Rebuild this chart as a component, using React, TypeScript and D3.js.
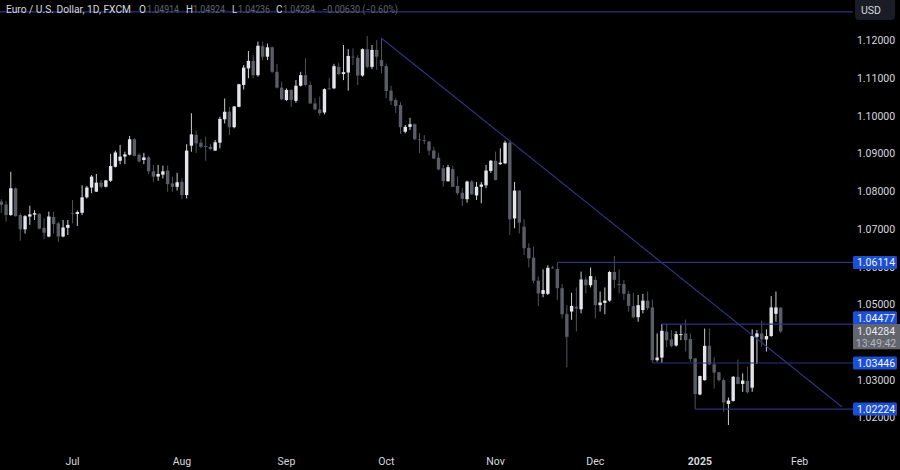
import React from "react";
import * as d3 from "d3";

const opens = [1.0773,1.0765,1.0737,1.0808,1.0737,1.0699,1.0733,1.0738,1.0740,1.0703,1.0680,1.0732,1.0715,1.0680,1.0703,1.0743,1.0740,1.0743,1.0784,1.0810,
1.0799,1.0823,1.0812,1.0828,1.0865,1.0881,1.0892,1.0897,1.0938,1.0897,1.0883,1.0890,1.0853,1.0839,1.0844,1.0855,1.0821,1.0812,1.0825,1.0790,
1.0921,1.0950,1.0929,1.0920,1.0918,1.0908,1.0929,1.0991,1.1011,1.0970,1.1024,1.1082,1.1126,1.1146,1.1108,1.1185,1.1157,1.1182,1.1117,1.1075,
1.1042,1.1069,1.1040,1.1080,1.1108,1.1082,1.1033,1.1017,1.1009,1.1073,1.1073,1.1130,1.1111,1.1115,1.1157,1.1154,1.1107,1.1177,1.1130,1.1175,
1.1148,1.1132,1.1067,1.1042,1.1029,1.0958,1.0971,1.0978,1.0938,1.0936,1.0932,1.0908,1.0889,1.0861,1.0827,1.0859,1.0814,1.0796,1.0779,1.0826,
1.0789,1.0812,1.0816,1.0854,1.0881,1.0872,1.0874,1.0929,1.0728,1.0802,1.0706,1.0650,1.0624,1.0563,1.0528,1.0528,1.0598,1.0594,1.0543,1.0474,
1.0481,1.0494,1.0487,1.0566,1.0551,1.0565,1.0498,1.0504,1.0510,1.0586,1.0554,1.0554,1.0528,1.0496,1.0466,1.0485,1.0510,1.0492,1.0352,1.0359,
1.0428,1.0407,1.0391,1.0420,1.0423,1.0408,1.0357,1.0261,1.0299,1.0390,1.0341,1.0320,1.0299,1.0236,1.0244,1.0308,1.0289,1.0297,1.0279,1.0414,
1.0423,1.0407,1.0416,1.0475,1.04914];
const highs = [1.0779,1.0774,1.0852,1.0810,1.0742,1.0737,1.0762,1.0750,1.0742,1.0728,1.0746,1.0746,1.0719,1.0724,1.0724,1.0777,1.0749,1.0816,1.0814,1.0843,
1.0846,1.0830,1.0830,1.0899,1.0908,1.0923,1.0905,1.0947,1.0941,1.0901,1.0902,1.0894,1.0870,1.0870,1.0868,1.0868,1.0839,1.0849,1.0834,1.0925,
1.1007,1.0961,1.0938,1.0945,1.0925,1.0936,1.0998,1.1046,1.1024,1.1026,1.1085,1.1135,1.1172,1.1161,1.1197,1.1197,1.1192,1.1184,1.1138,1.1091,
1.1073,1.1070,1.1095,1.1117,1.1153,1.1091,1.1047,1.1051,1.1073,1.1100,1.1138,1.1141,1.1188,1.1177,1.1179,1.1161,1.1179,1.1212,1.1188,1.1201,
1.1206,1.1139,1.1080,1.1047,1.1036,1.0976,1.0995,1.0980,1.0954,1.0949,1.0934,1.0918,1.0901,1.0870,1.0870,1.0868,1.0839,1.0808,1.0828,1.0830,
1.0825,1.0825,1.0870,1.0883,1.0905,1.0914,1.0934,1.0936,1.0825,1.0803,1.0726,1.0662,1.0653,1.0574,1.0593,1.0604,1.0602,1.0611,1.0554,1.0498,
1.0531,1.0545,1.0587,1.0574,1.0598,1.0574,1.0534,1.0545,1.0589,1.0628,1.0593,1.0565,1.0536,1.0531,1.0525,1.0528,1.0534,1.0513,1.0423,1.0448,
1.0448,1.0432,1.0429,1.0445,1.0460,1.0423,1.0358,1.0311,1.0436,1.0436,1.0360,1.0321,1.0304,1.0253,1.0310,1.0354,1.0317,1.0335,1.0434,1.0432,
1.0457,1.0434,1.0522,1.0534,1.04924];
const lows = [1.0742,1.0719,1.0735,1.0733,1.0669,1.0688,1.0711,1.0724,1.0699,1.0673,1.0678,1.0688,1.0666,1.0678,1.0684,1.0715,1.0708,1.0737,1.0781,1.0795,
1.0798,1.0808,1.0810,1.0825,1.0863,1.0872,1.0872,1.0895,1.0893,1.0877,1.0872,1.0846,1.0825,1.0828,1.0834,1.0799,1.0799,1.0802,1.0779,1.0781,
1.0905,1.0901,1.0914,1.0881,1.0910,1.0907,1.0914,1.0980,1.0949,1.0967,1.1023,1.1070,1.1100,1.1100,1.1104,1.1148,1.1148,1.1113,1.1073,1.1042,
1.1040,1.1024,1.1035,1.1078,1.1078,1.1032,1.1016,1.1001,1.1004,1.1070,1.1071,1.1108,1.1095,1.1067,1.1135,1.1082,1.1104,1.1126,1.1124,1.1122,
1.1113,1.1047,1.1029,1.1007,1.0952,1.0954,1.0963,1.0936,1.0901,1.0925,1.0896,1.0885,1.0856,1.0812,1.0825,1.0811,1.0790,1.0761,1.0770,1.0790,
1.0777,1.0768,1.0808,1.0849,1.0829,1.0870,1.0872,1.0684,1.0702,1.0688,1.0631,1.0598,1.0556,1.0496,1.0519,1.0525,1.0595,1.0512,1.0463,1.0333,
1.0459,1.0428,1.0476,1.0529,1.0545,1.0463,1.0481,1.0474,1.0507,1.0543,1.0529,1.0512,1.0481,1.0463,1.0454,1.0476,1.0485,1.0345,1.0348,1.0345,
1.0386,1.0386,1.0388,1.0405,1.0375,1.0348,1.0222,1.0259,1.0298,1.0339,1.0277,1.0295,1.0215,1.0180,1.0242,1.0288,1.0268,1.0264,1.0268,1.0342,
1.0388,1.0375,1.0414,1.0454,1.04236];
const closes = [1.0764,1.0737,1.0808,1.0734,1.0699,1.0734,1.0739,1.0742,1.0701,1.0690,1.0733,1.0713,1.0680,1.0704,1.0711,1.0742,1.0745,1.0784,1.0810,1.0839,
1.0823,1.0812,1.0829,1.0867,1.0903,1.0892,1.0898,1.0938,1.0894,1.0879,1.0890,1.0853,1.0839,1.0846,1.0853,1.0819,1.0812,1.0824,1.0790,1.0908,
1.0951,1.0927,1.0918,1.0918,1.0912,1.0930,1.0992,1.1011,1.0970,1.1025,1.1084,1.1128,1.1146,1.1108,1.1186,1.1157,1.1182,1.1117,1.1075,1.1044,
1.1069,1.1042,1.1080,1.1108,1.1082,1.1033,1.1017,1.1007,1.1071,1.1071,1.1132,1.1111,1.1116,1.1159,1.1155,1.1107,1.1177,1.1130,1.1175,1.1157,
1.1132,1.1066,1.1040,1.1026,1.0970,1.0971,1.0978,1.0938,1.0936,1.0934,1.0908,1.0887,1.0858,1.0827,1.0864,1.0812,1.0795,1.0780,1.0826,1.0792,
1.0812,1.0818,1.0855,1.0881,1.0830,1.0876,1.0929,1.0726,1.0802,1.0717,1.0649,1.0622,1.0563,1.0529,1.0538,1.0597,1.0596,1.0543,1.0474,1.0414,
1.0496,1.0489,1.0566,1.0551,1.0575,1.0498,1.0505,1.0510,1.0586,1.0565,1.0552,1.0528,1.0496,1.0466,1.0498,1.0510,1.0490,1.0352,1.0359,1.0430,
1.0405,1.0390,1.0421,1.0421,1.0405,1.0355,1.0262,1.0310,1.0390,1.0341,1.0319,1.0299,1.0240,1.0245,1.0308,1.0289,1.0298,1.0267,1.0416,1.0423,
1.0407,1.0416,1.0492,1.0492,1.04284];

const priceTicks = [1.12, 1.11, 1.1, 1.09, 1.08, 1.07, 1.06, 1.05, 1.03, 1.02];
const monthLabels = ["Jul", "Aug", "Sep", "Oct", "Nov", "Dec", "2025", "Feb"];
const monthIndex = [15, 38, 60, 81, 104, 125, 147, 168];

const levels = [
  { price: 1.06114, from: 117, label: "1.06114", labelPrice: 1.06114 },
  { price: 1.04477, from: 139, label: "1.04477", labelPrice: 1.04644 },
  { price: 1.03446, from: 137, label: "1.03446", labelPrice: 1.03446 },
  { price: 1.02224, from: 146, label: "1.02224", labelPrice: 1.02224 },
];
const trendIndex = [80, 176.9];
const trendPrice = [1.1206, 1.0228];
const headerLinePrice = 1.1276;
const lastPrice = 1.04284;

const legendParts = [
  { x: 6, text: "Euro / U.S. Dollar, 1D, FXCM", bright: true, len: 125 },
  { x: 139, text: "O", bright: true, len: 7 },
  { x: 147, text: "1.04914", bright: false, len: 32 },
  { x: 186, text: "H", bright: true, len: 7 },
  { x: 193, text: "1.04924", bright: false, len: 32 },
  { x: 232, text: "L", bright: true, len: 5 },
  { x: 238, text: "1.04236", bright: false, len: 32 },
  { x: 276, text: "C", bright: true, len: 6.5 },
  { x: 283, text: "1.04284", bright: false, len: 32 },
  { x: 322, text: "\u22120.00630 (\u22120.60%)", bright: false, len: 76 },
];

const W = 900;
const H = 470;
const axisLeft = 853;
const font = "Roboto, 'Liberation Sans', sans-serif";
const UP = "#e4e5ea";
const DOWN = "#5a5c66";
const LINE = "#2e3380";
const TAG = "#1c4fd2";
const AXIS_TEXT = "#d6d8df";

export default function App() {
  const x = d3.scaleLinear().domain([0, 164]).range([1.3, 780.7]);
  const y = d3.scaleLinear().domain([1.12, 1.02]).range([40.5, 417.5]);
  const bodyW = 3.4;
  const trendPath = d3.line<number>()
    .x((d) => x(d))
    .y((_, i) => y(trendPrice[i]))(trendIndex) as string;

  return (
    <svg
      width={W}
      height={H}
      viewBox={`0 0 ${W} ${H}`}
      style={{ position: "fixed", left: 0, top: 0, background: "#000", display: "block" }}
      fontFamily={font}
    >
      <defs>
        <filter id="soft" x="0" y="0" width="100%" height="100%">
          <feGaussianBlur stdDeviation="0.3" />
        </filter>
      </defs>
      <rect width={W} height={H} fill="#000" />
      <g filter="url(#soft)">
        <line x1={0} x2={axisLeft} y1={y(headerLinePrice)} y2={y(headerLinePrice)} stroke={LINE} strokeWidth={1.2} />
        {opens.map((o, i) => {
          const c = closes[i];
          const up = c >= o;
          const top = y(Math.max(o, c));
          const bot = y(Math.min(o, c));
          const col = up ? UP : DOWN;
          return (
            <g key={i}>
              <line x1={x(i)} x2={x(i)} y1={y(highs[i])} y2={y(lows[i])} stroke={col} strokeWidth={0.9} />
              <rect x={x(i) - bodyW / 2} y={top} width={bodyW} height={Math.max(bot - top, 0.9)} fill={col} />
            </g>
          );
        })}
        {levels.map((l) => (
          <line key={l.label} x1={x(l.from)} x2={axisLeft} y1={y(l.price)} y2={y(l.price)} stroke={LINE} strokeWidth={1.2} />
        ))}
        <path d={trendPath} stroke={LINE} strokeWidth={1.2} fill="none" />
      </g>

      {legendParts.map((p) => (
        <text
          key={p.x}
          x={p.x}
          y={12.5}
          fontSize={10.5}
          textLength={p.len}
          lengthAdjust="spacingAndGlyphs"
          fill={p.bright ? "#d6d8df" : "#5f626d"}
        >
          {p.text}
        </text>
      ))}

      {priceTicks.map((t) => (
        <text key={t} x={876} y={y(t) + 3.8} fontSize={10.5} fill={AXIS_TEXT} textAnchor="middle">
          {t.toFixed(5)}
        </text>
      ))}

      {levels.map((l) => {
        const cy = y(l.labelPrice);
        return (
          <g key={l.label}>
            <rect x={axisLeft} y={cy - 6.5} width={44} height={13} rx={1.5} fill={TAG} />
            <text x={876} y={cy + 3.8} fontSize={10.5} fill="#f2f4fb" textAnchor="middle">
              {l.label}
            </text>
          </g>
        );
      })}

      <rect x={axisLeft} y={y(lastPrice) - 7.4} width={47} height={25.3} fill="#62646e" />
      <text x={876} y={y(lastPrice) + 3.6} fontSize={10.5} fill="#e8e9ee" textAnchor="middle">
        {lastPrice.toFixed(5)}
      </text>
      <text x={876} y={y(lastPrice) + 15.6} fontSize={10.5} fill="#b5b7c0" textAnchor="middle">
        13:49:42
      </text>

      <rect x={855} y={-4} width={40} height={24} rx={4} fill="#1b1d26" />
      <text x={871} y={13.5} fontSize={10.5} fill={AXIS_TEXT} textAnchor="middle">
        USD
      </text>

      {monthLabels.map((m, i) => (
        <text
          key={m}
          x={x(monthIndex[i])}
          y={464.5}
          fontSize={10.5}
          fontWeight={m === "2025" ? 700 : 400}
          fill={AXIS_TEXT}
          textAnchor="middle"
        >
          {m}
        </text>
      ))}
    </svg>
  );
}
